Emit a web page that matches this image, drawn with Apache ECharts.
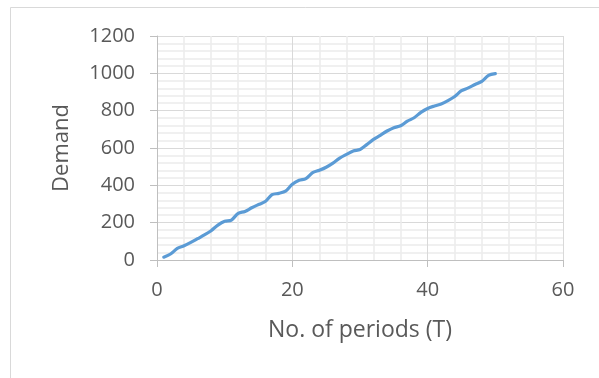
<!DOCTYPE html>
<html>
<head>
<meta charset="utf-8">
<script src="https://cdn.jsdelivr.net/npm/echarts@6/dist/echarts.min.js"></script>
<style>
  html, body { margin: 0; padding: 0; background: #fff; }
  #main { width: 599px; height: 378px; }
</style>
</head>
<body>
<div id="main"></div>
<script>
// periods T = 1..50
const periods = [
  1, 2, 3, 4, 5, 6, 7, 8, 9, 10,
  11, 12, 13, 14, 15, 16, 17, 18, 19, 20,
  21, 22, 23, 24, 25, 26, 27, 28, 29, 30,
  31, 32, 33, 34, 35, 36, 37, 38, 39, 40,
  41, 42, 43, 44, 45, 46, 47, 48, 49, 50
];
// demand
const demand = [
  15, 32, 62, 76, 94, 114, 134, 157, 187, 207,
  214, 250, 260, 280, 297, 313, 350, 357, 369, 406,
  427, 436, 468, 481, 497, 519, 546, 566, 584, 592,
  618, 646, 668, 691, 709, 719, 744, 762, 791, 812,
  825, 836, 854, 876, 907, 922, 940, 957, 989, 998
];
const xTicks = [0, 20, 40, 60];
const yTicks = [0, 200, 400, 600, 800, 1000, 1200];

const myChart = echarts.init(document.getElementById('main'));

const textColor = '#595959';
const font = '"Open Sans", sans-serif';

const option = {
  animation: false,
  backgroundColor: '#fff',
  // outer chart-area border (cropped in the picture)
  graphic: [
    {
      type: 'rect',
      shape: { x: 10.5, y: 7.5, width: 700, height: 500 },
      style: { fill: 'none', stroke: '#d9d9d9', lineWidth: 1 }
    }
  ],
  grid: {
    left: 157,
    right: 36,
    top: 36,
    bottom: 118
  },
  xAxis: {
    type: 'value',
    min: xTicks[0],
    max: xTicks[xTicks.length - 1],
    interval: xTicks[1] - xTicks[0],
    name: 'No. of periods (T)',
    nameLocation: 'middle',
    nameGap: 59,
    nameTextStyle: { color: textColor, fontSize: 23, fontFamily: font },
    axisLine: { show: true, lineStyle: { color: '#bfbfbf', width: 1 } },
    axisTick: { show: true, length: 7, lineStyle: { color: '#bfbfbf' } },
    axisLabel: { color: textColor, fontSize: 20, fontFamily: font, margin: 20 },
    splitLine: { show: true, lineStyle: { color: '#d9d9d9', width: 1 } },
    minorTick: { show: false, splitNumber: 5 },
    minorSplitLine: { show: true, lineStyle: { color: '#ebebeb', width: 1.5 } }
  },
  yAxis: {
    type: 'value',
    min: yTicks[0],
    max: yTicks[yTicks.length - 1],
    interval: yTicks[1] - yTicks[0],
    name: 'Demand',
    nameLocation: 'middle',
    nameGap: 84,
    nameTextStyle: { color: textColor, fontSize: 22, fontFamily: font },
    axisLine: { show: true, lineStyle: { color: '#bfbfbf', width: 1 } },
    axisTick: { show: true, length: 7, lineStyle: { color: '#bfbfbf' } },
    axisLabel: {
      color: textColor,
      fontSize: 20,
      fontFamily: font,
      margin: 22,
      formatter: (value) => String(value)
    },
    splitLine: { show: true, lineStyle: { color: '#d9d9d9', width: 1 } },
    minorTick: { show: false, splitNumber: 5 },
    minorSplitLine: { show: true, lineStyle: { color: '#ebebeb', width: 1.5 } }
  },
  series: [
    {
      type: 'line',
      data: periods.map((t, i) => [t, demand[i]]),
      smooth: 0.3,
      showSymbol: false,
      lineStyle: { color: '#5b9bd5', width: 3.2, cap: 'round', join: 'round' }
    }
  ]
};

myChart.setOption(option);
</script>
</body>
</html>
